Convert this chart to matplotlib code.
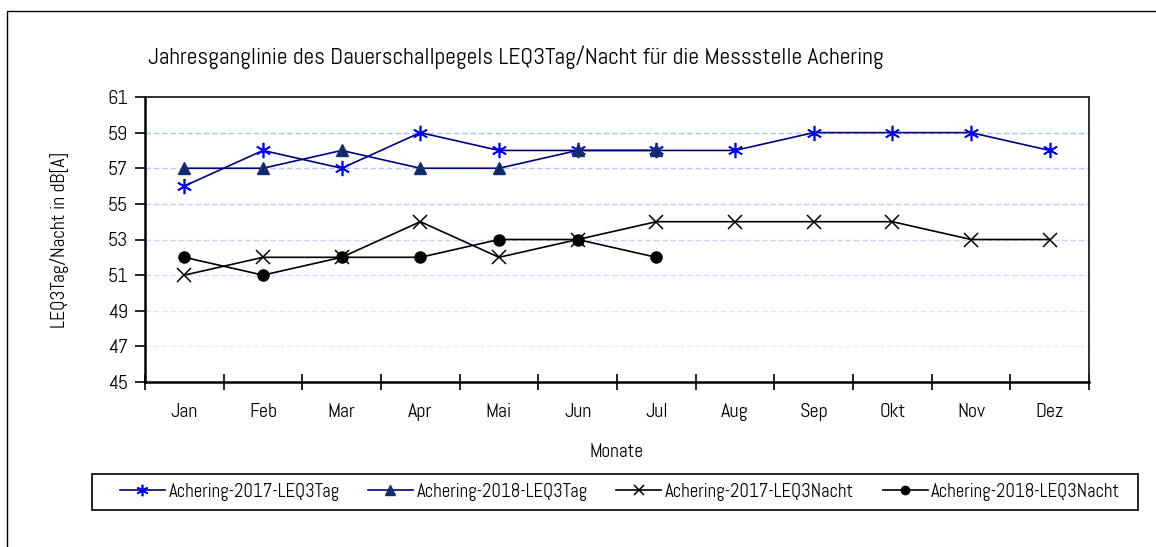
import matplotlib.pyplot as plt
from matplotlib.patches import Rectangle

months = ["Jan", "Feb", "Mar", "Apr", "Mai", "Jun", "Jul", "Aug", "Sep", "Okt", "Nov", "Dez"]
tag_2017 = [56, 58, 57, 59, 58, 58, 58, 58, 59, 59, 59, 58]
tag_2018 = [57, 57, 58, 57, 57, 58, 58]
nacht_2017 = [51, 52, 52, 54, 52, 53, 54, 54, 54, 54, 53, 53]
nacht_2018 = [52, 51, 52, 52, 53, 53, 52]
yticks = list(range(45, 62, 2))

plt.rcParams['font.family'] = ['Abel', 'DejaVu Sans']

W, H = 1156, 547
fig = plt.figure(figsize=(W / 100, H / 100), dpi=100)
# outer chart border and legend box
fig.patches.append(Rectangle((7 / W, -0.1), 1.2, 1 - 11 / H + 0.1, transform=fig.transFigure,
                             fill=False, edgecolor="black", linewidth=1.0))
fig.patches.append(Rectangle((92 / W, 1 - 510 / H), (1138 - 92) / W, 36 / H, transform=fig.transFigure,
                             fill=False, edgecolor="black", linewidth=1.2))

ax = fig.add_axes([145 / W, 1 - 382 / H, (1089 - 145) / W, (382 - 97) / H])
x = list(range(len(months)))

# dashed gridlines, fading toward the bottom
grid_cols = {47: "#e4ebf8", 49: "#dce5f7", 51: "#cfdcf5", 53: "#c4d5f3", 55: "#bccff2", 57: "#b2c8f0", 59: "#a9c2ee"}
for yv, c in grid_cols.items():
    ax.axhline(yv, color=c, linestyle=(0, (4, 2)), linewidth=1.0, zorder=0)

ax.plot(x, tag_2017, color="#000080", linewidth=1.2, marker=(6, 2, 0), markersize=11,
        markeredgecolor="#0000ff", markerfacecolor="#0000ff", markeredgewidth=1.2, label="Achering-2017-LEQ3Tag")
ax.plot(x[:len(tag_2018)], tag_2018, color="#000080", linewidth=1.2, marker="^", markersize=9,
        markeredgecolor="#1a2f6e", markerfacecolor="#0d2a6b", label="Achering-2018-LEQ3Tag")
ax.plot(x, nacht_2017, color="black", linewidth=1.2, marker="x", markersize=10,
        markeredgewidth=1.1, label="Achering-2017-LEQ3Nacht")
ax.plot(x[:len(nacht_2018)], nacht_2018, color="black", linewidth=1.2, marker="o", markersize=8,
        label="Achering-2018-LEQ3Nacht")

ax.set_xlim(-0.5, len(months) - 0.5)
ax.set_ylim(45, 61)
ax.set_yticks(yticks)
ax.tick_params(axis="y", direction="out", length=7, width=1.2, labelsize=14.5, pad=5)

ax.set_xticks([i - 0.5 for i in range(len(months) + 1)])
ax.set_xticklabels([])
ax.set_xticks(x, minor=True)
ax.set_xticklabels(months, minor=True)
ax.tick_params(axis="x", which="major", direction="inout", length=12, width=1.2)
ax.tick_params(axis="x", which="minor", length=0, labelsize=14.5, pad=15)

for s in ["left", "bottom"]:
    ax.spines[s].set_linewidth(1.8)
for s in ["top", "right"]:
    ax.spines[s].set_linewidth(1.3)
    ax.spines[s].set_color("#222222")

ax.set_xlabel("Monate", fontsize=14, labelpad=16)
ax.set_ylabel("LEQ3Tag/Nacht in dB[A]", fontsize=14, labelpad=28)
fig.text(148 / W, 1 - 57 / H, "Jahresganglinie des Dauerschallpegels LEQ3Tag/Nacht für die Messstelle Achering",
         fontsize=17, va="center", ha="left")

leg = fig.legend(loc="center", ncol=4, mode="expand", fontsize=13.5, frameon=False,
                 bbox_to_anchor=(114 / W, 1 - 510 / H, (1126 - 114) / W, 36 / H),
                 handlelength=2.4, handletextpad=0.2, borderaxespad=0, borderpad=0.3,
                 markerscale=0.75)

fig.savefig("out.png", dpi=100)
